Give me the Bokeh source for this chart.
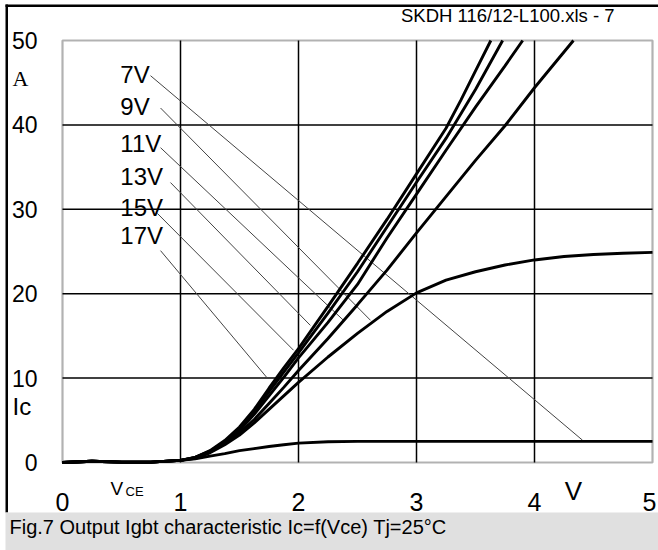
from bokeh.plotting import figure
from bokeh.models import Range1d, BoxAnnotation
from bokeh.embed import file_html
from bokeh.resources import INLINE
from bokeh.core.properties import value

# ---------------- data ----------------
vce_low = [0, 0.25, 0.5, 0.75, 1.0]
ic_low = [0, 0.15, 0.05, 0.05, 0.25]

vce_rise = [1.125, 1.25, 1.375, 1.5, 1.625, 1.75, 1.875, 2.0]

vce_7 = vce_low + vce_rise + [2.25, 2.5, 3.0, 4.0, 5.0]
ic_7 = ic_low + [0.45, 0.75, 1.05, 1.4, 1.65, 1.9, 2.1, 2.3] + [2.45, 2.5, 2.5, 2.5, 2.5]

vce_9 = vce_low + vce_rise + [2.25, 2.5, 2.75, 3.0, 3.25, 3.5, 3.75, 4.0, 4.25, 4.5, 4.75, 5.0]
ic_9 = ic_low + [0.5, 1.15, 2.1, 3.25, 4.7, 6.3, 7.9, 9.5] + [12.5, 15.3, 17.9, 20.1, 21.6, 22.6, 23.4, 24.0, 24.4, 24.65, 24.8, 24.9]

vce_11 = vce_low + vce_rise + [2.25, 2.5, 2.75, 3.0, 3.25, 3.5, 3.75, 4.0, 4.33]
ic_11 = ic_low + [0.55, 1.25, 2.25, 3.5, 5.1, 7.0, 8.9, 10.9] + [14.7, 18.7, 22.8, 27.2, 31.5, 35.8, 39.9, 44.4, 50.0]

vce_13 = vce_low + vce_rise + [2.25, 2.5, 2.75, 3.0, 3.25, 3.5, 3.75, 3.9]
ic_13 = ic_low + [0.6, 1.3, 2.4, 3.8, 5.7, 7.9, 10.1, 12.4] + [16.6, 21.1, 26.6, 31.8, 37.0, 42.1, 47.0, 50.0]

vce_15 = vce_low + vce_rise + [2.25, 2.5, 2.75, 3.0, 3.25, 3.5, 3.73]
ic_15 = ic_low + [0.6, 1.35, 2.5, 4.0, 6.0, 8.4, 10.7, 13.0] + [17.7, 22.6, 27.9, 33.2, 38.4, 44.2, 50.0]

vce_17 = vce_low + vce_rise + [2.25, 2.5, 2.75, 3.0, 3.25, 3.375, 3.5, 3.63]
ic_17 = ic_low + [0.6, 1.4, 2.6, 4.2, 6.3, 8.8, 11.2, 13.5] + [18.5, 23.6, 28.8, 34.2, 39.6, 42.9, 46.4, 50.0]

series_labels = ["7V", "9V", "11V", "13V", "15V", "17V"]
label_x = [0.49, 0.49, 0.49, 0.49, 0.49, 0.49]
label_y = [45.96, 42.17, 37.79, 33.88, 30.21, 26.9]

leader_x0 = [0.746, 0.831, 0.831, 0.915, 0.805, 0.831]
leader_y0 = [45.83, 42.0, 37.3, 33.17, 29.5, 25.1]
leader_x1 = [4.407, 2.61, 2.381, 2.10, 1.958, 1.737]
leader_y1 = [2.64, 16.85, 16.85, 16.25, 13.3, 9.98]

x_ticks = [0, 1, 2, 3, 4, 5]
y_ticks = [0, 10, 20, 30, 40, 50]
x_min, x_max = 0, 5
y_min, y_max = 0, 50

title_text = "SKDH 116/12-L100.xls - 7"
caption_text = "Fig.7 Output Igbt characteristic Ic=f(Vce) Tj=25\u00b0C"
y_unit = "A"
y_name = "Ic"
x_name = "V"
x_name_sub = "CE"
x_unit = "V"

FONT = "Liberation Sans"

# ---------------- layout (pixels in the picture) ----------------
CW, CH = 658, 550          # canvas size
PX0, PX1 = 62, 652         # frame left / right
PY0, PY1 = 40, 462         # frame top / bottom
SX = (PX1 - PX0) / (x_max - x_min)
SY = (PY1 - PY0) / (y_max - y_min)


def dx(px):
    return x_min + (px - PX0) / SX


def dy(py):
    return y_min + (PY1 - py) / SY


p = figure(width=CW, height=CH,
           x_range=Range1d(dx(0), dx(CW)),
           y_range=Range1d(dy(CH), dy(0)),
           output_backend="svg", toolbar_location=None,
           x_axis_type=None, y_axis_type=None, min_border=0,
           background_fill_color="white", border_fill_color="white",
           outline_line_color=None)

# decoration: outer border and caption band
p.quad(left=[dx(5)], right=[dx(CW)], top=[dy(4)], bottom=[dy(6.5)],
       fill_color="black", line_color=None)
p.quad(left=[dx(5)], right=[dx(7.5)], top=[dy(4)], bottom=[dy(512)],
       fill_color="black", line_color=None)
p.quad(left=[dx(5)], right=[dx(CW)], top=[dy(512)], bottom=[dy(CH)],
       fill_color="#e0e0e0", line_color=None)

# grid lines inside the plotting area
gx = x_ticks[1:-1]
gy = y_ticks[1:-1]
p.segment(x0=gx, y0=[y_min] * len(gx), x1=gx, y1=[y_max] * len(gx),
          line_color="black", line_width=1.5)
p.segment(x0=[x_min] * len(gy), y0=gy, x1=[x_max] * len(gy), y1=gy,
          line_color="black", line_width=1.5)

# leader lines
p.segment(x0=leader_x0, y0=leader_y0, x1=leader_x1, y1=leader_y1,
          line_color="#444444", line_width=1)

# curves
for xs, ys in [(vce_7, ic_7), (vce_9, ic_9), (vce_11, ic_11),
               (vce_13, ic_13), (vce_15, ic_15), (vce_17, ic_17)]:
    p.line(xs, ys, line_color="black", line_width=2.9)

# plot frame outline
p.add_layout(BoxAnnotation(left=x_min, right=x_max, bottom=y_min, top=y_max,
                           fill_alpha=0, line_color="black", line_width=2.2,
                           level="overlay"))

# series labels
p.text(x=label_x, y=label_y, text=series_labels, text_font=value(FONT),
       text_font_size="24px", text_baseline="middle", text_align="left",
       text_color="black")

# tick labels
p.text(x=[dx(37)] * len(y_ticks), y=y_ticks, text=[str(t) for t in y_ticks],
       text_font=value(FONT), text_font_size="23px", text_baseline="middle",
       text_align="right", text_color="black")
x_label_offsets = [0] * (len(x_ticks) - 1) + [-3]   # keep the last label inside the page
p.text(x=x_ticks, y=[dy(501)] * len(x_ticks), text=[str(t) for t in x_ticks],
       x_offset=x_label_offsets,
       text_font=value(FONT), text_font_size="25px", text_baseline="middle",
       text_align="center", text_color="black")


def add_text(x, y, text, size, align="left", font=FONT):
    p.text(x=[x], y=[y], text=[text], text_font=value(font), text_font_size=size,
           text_baseline="middle", text_align=align, text_color="black")


add_text(dx(614), dy(15), title_text, "18.5px", align="right")
add_text(dx(12), dy(78), y_unit, "22px", font="Liberation Serif")
add_text(dx(12), dy(406), y_name, "24px")
add_text(dx(110), dy(488), x_name, "19px")
add_text(dx(125), dy(491), x_name_sub, "13px")
add_text(x_ticks[4] + 0.33, dy(490), x_unit, "26px", align="center")
add_text(dx(9), dy(526), caption_text, "20px")

open("out.html", "w").write(file_html(p, INLINE))
